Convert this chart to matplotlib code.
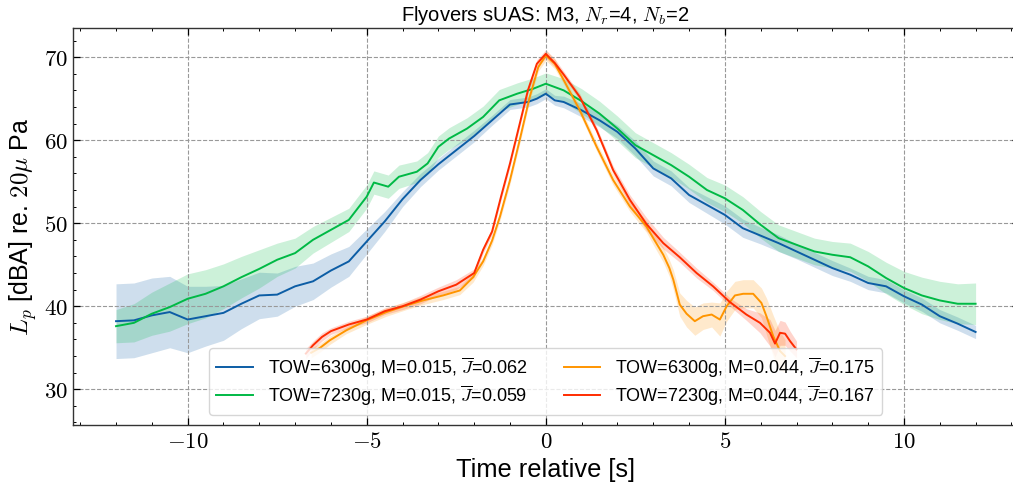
import numpy as np
import matplotlib
matplotlib.use('Agg')
import matplotlib.pyplot as plt
from matplotlib.ticker import MultipleLocator, FuncFormatter

# --- data (time [s], level [dBA], band half-width [dB]) ---
t_6300_slow = [-12, -11.5, -11, -10.5, -10, -9.5, -9, -8.5, -8, -7.5, -7, -6.5, -6, -5.5, -5,
               -4.5, -4, -3.5, -3, -2.5, -2, -1.5, -1, -0.5, -0.25, 0, 0.25, 0.5, 1, 1.5, 2,
               2.5, 3, 3.5, 4, 4.5, 5, 5.5, 6, 6.5, 7, 7.5, 8, 8.5, 9, 9.5, 10, 10.5, 11, 11.5, 12]
lp_6300_slow = [38.2, 38.3, 38.9, 39.3, 38.4, 38.8, 39.2, 40.3, 41.3, 41.4, 42.4, 43.0, 44.3, 45.4, 47.8,
                50.2, 52.9, 55.2, 57.1, 58.8, 60.5, 62.4, 64.3, 64.6, 65.0, 65.6, 64.8, 64.6, 63.6, 62.4, 61.0,
                59.0, 56.6, 55.4, 53.4, 52.2, 51.0, 49.4, 48.5, 47.6, 46.6, 45.6, 44.6, 43.8, 42.8, 42.4,
                41.2, 40.2, 38.8, 37.9, 36.9]
sd_6300_slow = [4.5, 4.5, 4.5, 4.3, 4.0, 3.6, 3.3, 3.0, 2.8, 2.6, 2.4, 2.2, 2.0, 1.8, 1.5,
                1.2, 0.9, 0.8, 0.7, 0.7, 0.7, 0.6, 0.6, 0.6, 0.6, 0.6, 0.6, 0.7, 0.8, 0.8, 0.8,
                0.9, 0.9, 0.9, 0.9, 1.0, 1.1, 1.1, 1.0, 1.0, 0.9, 0.9, 0.9, 0.8, 0.8, 0.8,
                0.8, 0.8, 0.8, 0.8, 0.8]

t_7230_slow = [-12, -11.5, -11, -10.5, -10, -9.5, -9, -8.5, -8, -7.5, -7, -6.5, -6, -5.5, -5,
               -4.8, -4.4, -4.1, -3.6, -3.3, -3.0, -2.7, -2.2, -1.75, -1.3, -0.8, -0.35, 0, 0.5, 1,
               1.5, 2, 2.5, 3, 3.5, 4, 4.5, 5, 5.5, 6, 6.5, 7, 7.5, 8, 8.5, 9, 9.5, 10, 10.5, 11, 11.5, 12]
lp_7230_slow = [37.6, 38.0, 39.1, 39.9, 40.9, 41.5, 42.4, 43.5, 44.5, 45.6, 46.4, 48.0, 49.2, 50.4, 53.2,
                54.9, 54.4, 55.6, 56.2, 57.2, 59.2, 60.2, 61.4, 62.8, 64.8, 65.6, 66.2, 66.8, 66.0, 64.7,
                63.2, 61.4, 59.4, 58.2, 57.0, 55.6, 54.0, 53.0, 51.6, 49.8, 48.2, 47.4, 46.6, 46.2, 45.9,
                44.8, 43.4, 42.2, 41.3, 40.7, 40.3, 40.3]
sd_7230_slow = [2.0, 2.3, 2.6, 2.9, 3.0, 2.9, 2.7, 2.5, 2.3, 2.0, 1.8, 1.6, 1.5, 1.4, 1.4,
                1.4, 1.4, 1.4, 1.3, 1.3, 1.3, 1.3, 1.3, 1.3, 1.3, 1.3, 1.3, 1.3, 1.4, 1.5,
                1.5, 1.5, 1.5, 1.5, 1.5, 1.5, 1.5, 1.6, 1.6, 1.6, 1.6, 1.6, 1.6, 1.6, 1.7,
                1.8, 1.9, 2.0, 2.2, 2.3, 2.4, 2.5]

t_6300_fast = [-6.55, -6.3, -6.03, -5.57, -5.01, -4.45, -3.89, -3.43, -2.87, -2.4, -2.03, -1.75, -1.5,
               -1.28, -1.0, -0.73, -0.45, -0.21, 0, 0.25, 0.48, 0.95, 1.42, 1.88, 2.35, 2.81, 3.0, 3.28,
               3.45, 3.56, 3.74, 3.93, 4.16, 4.39, 4.63, 4.86, 5.05, 5.28, 5.51, 5.79, 6.02, 6.16, 6.35,
               6.54, 6.68]
lp_6300_fast = [34.4, 35.0, 35.9, 37.1, 38.3, 39.3, 40.1, 40.7, 41.3, 41.9, 43.5, 45.4, 47.9,
                50.8, 55.2, 60.0, 65.2, 68.8, 70.2, 69.2, 67.4, 63.6, 59.2, 55.2, 52.0, 49.6, 48.2, 46.2,
                44.6, 43.2, 40.2, 39.1, 38.2, 38.8, 39.0, 38.4, 40.0, 41.3, 41.5, 41.5, 40.4, 38.8, 36.4,
                34.6, 34.0]
sd_6300_fast = [0.6, 0.5, 0.5, 0.4, 0.5, 0.5, 0.5, 0.5, 0.5, 0.5, 0.6, 0.5, 0.5,
                0.5, 0.5, 0.5, 0.5, 0.5, 0.6, 0.6, 0.5, 0.5, 0.5, 0.6, 0.6, 0.7, 0.8, 0.9,
                1.0, 1.2, 1.4, 1.6, 1.7, 1.6, 1.5, 2.0, 1.8, 1.7, 1.7, 1.7, 1.8, 2.2, 2.5,
                2.3, 2.0]

t_7230_fast = [-6.7, -6.5, -6.25, -6, -5.5, -5, -4.5, -4, -3.5, -3, -2.5, -2, -1.75, -1.5, -1.25,
               -1, -0.75, -0.5, -0.25, 0, 0.25, 0.5, 0.95, 1.42, 1.88, 2.35, 2.81, 3.28, 3.74, 4.21,
               4.67, 5.14, 5.6, 5.98, 6.26, 6.4, 6.54, 6.68, 6.82, 7.0]
lp_7230_fast = [34.3, 35.3, 36.3, 37.0, 37.8, 38.4, 39.4, 40.0, 40.8, 41.8, 42.6, 44.0, 46.8, 49.0, 53.2,
                57.2, 61.6, 66.0, 69.2, 70.4, 69.3, 67.9, 65.2, 61.2, 56.4, 52.8, 49.9, 47.6, 45.9, 44.0,
                42.4, 40.5, 39.0, 38.0, 36.8, 35.5, 36.8, 36.7, 35.8, 34.8]
sd_7230_fast = [0.6, 0.5, 0.5, 0.4, 0.4, 0.4, 0.4, 0.4, 0.5, 0.5, 0.6, 0.5, 0.4, 0.4, 0.4,
                0.4, 0.4, 0.4, 0.5, 0.5, 0.5, 0.4, 0.4, 0.4, 0.5, 0.6, 0.8, 0.7, 0.6, 0.6,
                0.5, 0.5, 0.7, 1.2, 1.6, 1.6, 1.5, 1.4, 1.2, 1.0]

labels = [r'TOW=6300g, M=0.015, $\overline{J}$=0.062',
          r'TOW=7230g, M=0.015, $\overline{J}$=0.059',
          r'TOW=6300g, M=0.044, $\overline{J}$=0.175',
          r'TOW=7230g, M=0.044, $\overline{J}$=0.167']
colors = ['#0C5DA5', '#00B945', '#FF9500', '#FF2C00']

plt.rcParams['font.family'] = ['Liberation Sans', 'DejaVu Sans']
plt.rcParams['mathtext.fontset'] = 'cm'

fig = plt.figure(figsize=(10.13, 4.93), dpi=100)
ax = fig.add_axes([0.0721, 0.138, 0.9334, 0.805])

series = [(t_6300_slow, lp_6300_slow, sd_6300_slow),
          (t_7230_slow, lp_7230_slow, sd_7230_slow),
          (t_6300_fast, lp_6300_fast, sd_6300_fast),
          (t_7230_fast, lp_7230_fast, sd_7230_fast)]

for (t, lp, sd), c, lab in zip(series, colors, labels):
    t, lp, sd = np.array(t), np.array(lp), np.array(sd)
    ax.fill_between(t, lp - sd, lp + sd, color=c, alpha=0.2, lw=0)
    ax.plot(t, lp, color=c, lw=1.4, label=lab)

ax.set_xlim(-13.2, 13.2)
ax.set_ylim(25.7, 73.5)
ax.xaxis.set_major_locator(MultipleLocator(5))
ax.xaxis.set_minor_locator(MultipleLocator(1))
ax.yaxis.set_major_locator(MultipleLocator(10))
ax.yaxis.set_minor_locator(MultipleLocator(2))
ax.xaxis.set_major_formatter(FuncFormatter(lambda v, p: r'$%g$' % v))
ax.yaxis.set_major_formatter(FuncFormatter(lambda v, p: r'$%g$' % v))
ax.tick_params(which='both', direction='in', top=True, right=True, labelsize=16.5)
ax.tick_params(which='major', length=5, width=0.9)
ax.tick_params(which='minor', length=2.5, width=0.7)
for s in ax.spines.values():
    s.set_linewidth(1.0)
    s.set_color('#333333')
ax.grid(True, ls='--', color='#999999', lw=0.8)

ax.set_title(r'Flyovers sUAS: M3, $N_r$=4, $N_b$=2', fontsize=14.5, pad=5)
ax.set_xlabel('Time relative [s]', fontsize=18.3)
ax.set_ylabel(r'$L_p$ [dBA] re. $20\mu$ Pa', fontsize=18)
ax.legend(loc='lower center', ncol=2, fontsize=13, borderaxespad=0.55,
          columnspacing=2.0, handletextpad=0.85, labelspacing=0.2)

fig.savefig('out.png', dpi=100)
